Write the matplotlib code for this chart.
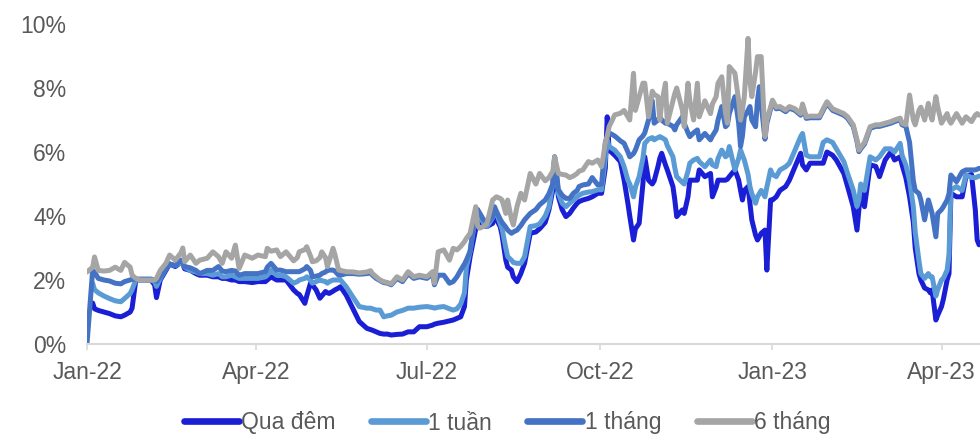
import matplotlib
matplotlib.use("Agg")
import matplotlib.pyplot as plt
import matplotlib.dates as mdates
from matplotlib.lines import Line2D
from matplotlib.ticker import FuncFormatter, MultipleLocator
import numpy as np
import pandas as pd

plt.rcParams["font.family"] = ["Liberation Sans", "DejaVu Sans"]

nan = np.nan

# Observation dates, as days elapsed since 1 Jan 2022
days = [
    0, 3, 4, 6, 9, 12, 15, 18, 20, 23, 24, 26, 28, 34, 36, 37, 39, 42, 44, 47, 50,
    51, 52, 55, 58, 60, 64, 67, 70, 72, 74, 77, 79, 81, 84, 88, 91, 95, 96, 98, 101, 103,
    106, 110, 112, 113, 116, 117, 119, 120, 122, 124, 125, 127, 128, 129, 131, 132, 134,
    135, 138, 142, 145, 149, 151, 152, 154, 156, 158, 160, 162, 165, 168, 171, 174, 177,
    181, 184, 185, 187, 190, 193, 195, 197, 199, 201, 202, 204, 207, 208, 209,
    211, 213, 216, 217, 218, 220, 221, 223, 224, 226, 227, 229, 231, 233, 236, 239, 241,
    244, 246, 248, 249, 251, 253, 255, 257, 259, 261, 262, 264, 267, 269, 272, 274, 276,
    277, 278, 281, 284, 286, 288, 289, 291, 292, 294, 296,
    297, 299, 301, 302, 304, 305, 306, 308, 309, 312, 313, 314, 317, 318, 320, 321, 323,
    325, 326, 329, 332, 333, 335, 336, 338, 340, 341, 342, 345, 347, 348, 349, 350, 352,
    353, 354, 356, 357, 358, 359, 361, 362, 364, 365, 367, 369, 372, 374, 377, 380, 381,
    383, 385, 390,
    392, 394, 397, 399, 403, 405, 408, 410, 411, 412, 414, 417, 420, 422, 425, 428, 430,
    433, 434, 436, 438, 440, 441, 443, 444, 446, 448, 449, 450, 452, 453, 455, 456, 458,
    459, 460, 463, 466, 468, 471, 473, 474, 475,
]

# Interbank rates (%)
qua_dem = [
    nan, 1.28, 1.1, 1.05, 1.0, 0.95, 0.88, 0.85, 0.9, 1.0, 1.12, 2.0, 2.0, 2.0, 1.85, 1.45,
    2.0, 2.3, 2.5, 2.42, 2.55, 2.5, 2.35, 2.3, 2.2, 2.15, 2.15, 2.1, 2.1, 2.05, 2.05, 2.0,
    2.0, 1.95, 1.95, 1.92, 1.95, 1.95, 2.0, 2.1, 2.0, 2.0,
    2.0, 1.69, 1.58, 1.55, 1.27, 1.5, 1.9, 1.85, 1.69, 1.43, 1.5, 1.64, 1.6, 1.58, 1.65,
    1.69, 1.75, 1.79, 1.53, 1.06, 0.7, 0.49, 0.45, 0.43, 0.38, 0.33, 0.31, 0.31, 0.28, 0.3,
    0.31, 0.38, 0.38, 0.54, 0.54, 0.59, 0.62, 0.65, 0.68, 0.72, 0.75, 0.8, 0.85, 1.17, 2.0,
    2.73, 3.6, 3.8, 3.77,
    3.7, 3.67, 3.77, 3.98, 3.9, 3.67, 3.4, 2.62, 2.4, 2.31, 2.1, 1.95, 2.2, 2.52, 3.46, 3.5,
    3.6, 3.8, 4.2, 4.8, 5.75, 4.6, 4.2, 3.98, 4.08, 4.25, 4.4, 4.45, 4.5, 4.55, 4.6, 4.71,
    4.71, 5.5, 7.1, 6.06, 5.9, 5.7, 5.12, 4.4, 4.0, 3.25, 3.6, 3.77, 5.0,
    5.85, 5.12, 5.0, 5.1, 5.54, 5.8, 5.96, 5.6, 5.44, 4.92, 4.5, 3.98, 4.19, 4.08, 4.6,
    5.12, 5.12, 5.12, 5.44, 5.23, 5.33, 4.6, 4.9, 5.12, 5.12, 5.12, 5.15, 5.23, 5.44, 5.12,
    4.8, 4.5, 4.8, 4.92, 4.4, 3.88, 3.4, 3.25, 3.35, 3.46, 3.56, 2.31, 4.5, 4.5, 4.6, 4.8,
    4.92, 5.12, 5.54, 5.96, 5.6, 5.44, 5.65, 5.65,
    5.65, 6.0, 5.9, 5.75, 5.33, 4.92, 4.29, 3.56, 4.2, 4.81, 4.29, 5.6, 5.55, 5.23, 5.75,
    6.0, 5.75, 5.85, 5.6, 5.2, 4.6, 3.8, 3.0, 2.2, 2.0, 1.75, 1.69, 1.6, 1.69, 0.75, 0.9,
    1.17, 1.4, 2.0, 2.2, 4.71, 4.6, 4.6, 5.23, 5.3, 4.19, 3.25, 3.1,
]

mot_tuan = [
    nan, 1.9, 1.7, 1.6, 1.5, 1.42, 1.35, 1.32, 1.42, 1.58, 1.7, 2.0, 2.0, 2.0, 1.95, 1.8,
    2.05, 2.35, 2.5, 2.45, 2.55, 2.5, 2.4, 2.3, 2.25, 2.2, 2.2, 2.15, 2.2, 2.1, 2.1, 2.15,
    2.1, 2.05, 2.05, 2.05, 2.05, 2.1, 2.15, 2.3, 2.15, 2.15,
    2.1, 1.9, 1.95, 2.0, 2.05, 2.1, 2.0, 1.9, 1.95, 2.0, 1.98, 1.95, 1.9, 1.95, 2.0, 2.0,
    2.0, 2.0, 1.79, 1.43, 1.17, 1.12, 1.12, 1.1, 1.06, 1.06, 0.85, 0.88, 0.9, 1.0, 1.05,
    1.12, 1.12, 1.15, 1.17, 1.14, 1.12, 1.15, 1.17, 1.1, 1.06, 1.1, 1.25, 1.6, 2.4, 2.9,
    4.05, 4.2, 3.98,
    3.8, 3.67, 3.95, 4.2, 4.1, 3.77, 3.6, 3.0, 2.73, 2.62, 2.55, 2.52, 2.52, 2.73, 3.67,
    3.7, 3.75, 4.0, 4.29, 5.0, 5.85, 4.7, 4.4, 4.29, 4.4, 4.5, 4.6, 4.65, 4.71, 4.75, 4.76,
    4.82, 4.82, 5.8, 6.38, 6.17, 6.06, 5.85, 5.54, 5.12, 5.0, 4.6, 4.9, 5.23, 5.8,
    6.27, 6.4, 6.45, 6.38, 6.45, 6.48, 6.45, 6.38, 6.2, 5.85, 5.5, 5.23, 5.05, 5.0, 5.4,
    5.65, 5.75, 5.8, 5.7, 5.54, 5.75, 5.6, 5.54, 5.8, 6.06, 5.85, 5.9, 6.17, 5.44, 5.8,
    6.06, 5.9, 5.75, 5.3, 4.92, 4.7, 4.4, 4.6, 4.7, 4.8, 4.6, 4.9, 5.44, 5.3, 5.23, 5.44,
    5.54, 5.65, 6.06, 6.48, 6.58, 5.9, 5.85, 5.85,
    6.3, 6.38, 6.3, 6.1, 5.7, 5.33, 4.81, 4.3, 4.5, 5.0, 4.8, 5.85, 5.75, 5.85, 6.1, 6.1,
    6.0, 6.27, 5.9, 5.6, 5.1, 4.29, 3.5, 2.6, 2.2, 2.05, 2.2, 2.1, 2.1, 1.5, 1.7, 2.0,
    2.05, 2.31, 2.8, 4.81, 4.92, 4.8, 5.28, 5.2, 5.2, 5.22, 5.25,
]

mot_thang = [
    0.0, 2.3, 2.25, 2.05, 2.0, 1.97, 1.9, 1.88, 1.95, 2.0, 2.02, 2.03, 2.03, 2.03, 2.0,
    1.95, 2.1, 2.35, 2.5, 2.45, 2.62, 2.55, 2.42, 2.38, 2.3, 2.2, 2.3, 2.3, 2.42, 2.28,
    2.26, 2.3, 2.28, 2.15, 2.2, 2.2, 2.2, 2.26, 2.4, 2.52, 2.31, 2.31,
    2.26, 2.26, 2.26, 2.26, 2.35, 2.42, 2.3, 2.1, 2.12, 2.15, 2.2, 2.25, 2.31, 2.31, 2.31,
    2.28, 2.15, 2.15, 2.2, 2.2, 2.18, 2.2, 2.22, 2.15, 2.05, 1.98, 1.92, 1.9, 1.85, 2.05,
    1.95, 2.2, 2.05, 2.1, 2.05, 2.2, 1.85, 2.15, 2.15, 1.9, 1.95, 2.1, 2.31, 2.5, 2.62,
    2.9, 4.2, 4.2, 4.1,
    3.9, 3.77, 3.98, 4.29, 4.15, 3.9, 3.8, 3.65, 3.56, 3.46, 3.5, 3.56, 3.7, 3.88, 4.08,
    4.2, 4.35, 4.5, 4.7, 5.0, 5.85, 4.82, 4.65, 4.55, 4.55, 4.71, 4.8, 4.92, 4.97, 5.0,
    5.2, 4.97, 5.0, 6.3, 6.48, 6.6, 6.5, 6.35, 6.27, 6.0, 5.85, 5.95, 6.06, 6.38, 6.5,
    6.6, 7.0, 7.6, 6.9, 7.0, 7.1, 7.0, 6.9, 6.9, 6.8, 6.69, 6.85, 7.1, 6.9, 6.6, 6.48,
    6.6, 6.69, 6.38, 6.58, 6.38, 6.5, 6.69, 7.0, 7.42, 6.79, 6.85, 7.2, 7.73, 6.9, 6.17,
    6.5, 7.1, 7.3, 7.42, 7.0, 6.79, 7.6, 8.04, 7.5, 6.4, 6.9, 7.35, 7.57, 7.35, 7.37,
    7.26, 7.37, 7.3, 7.15, 7.45, 7.05, 7.07, 7.07,
    7.3, 7.52, 7.3, 7.25, 7.15, 7.05, 6.8, 6.33, 6.01, 6.1, 6.25, 6.74, 6.8, 6.8, 6.85,
    6.9, 6.95, 7.01, 6.85, 6.8, 6.3, 5.1, 4.8, 4.7, 4.5, 3.88, 4.5, 4.3, 4.08, 3.35, 4.08,
    4.2, 4.29, 4.5, 4.7, 5.28, 5.07, 5.38, 5.44, 5.44, 5.44, 5.46, 5.49,
]

sau_thang = [
    2.25, 2.4, 2.72, 2.3, 2.28, 2.3, 2.4, 2.3, 2.55, 2.4, 2.15, 2.05, 2.0, 2.0, 2.0, 2.05,
    2.3, 2.52, 2.78, 2.62, 2.85, 3.0, 2.57, 2.78, 2.52, 2.62, 2.68, 2.88, 2.73, 2.52, 2.88,
    2.68, 3.09, 2.36, 2.78, 2.68, 2.78, 2.73, 2.99, 2.9, 2.94, 2.73,
    2.88, 2.6, 2.7, 2.88, 2.95, 3.04, 2.75, 2.57, 2.6, 2.7, 2.88, 2.7, 2.42, 2.6, 2.99,
    2.8, 2.31, 2.3, 2.26, 2.25, 2.22, 2.25, 2.29, 2.2, 2.1, 2.0, 1.95, 1.92, 1.88, 2.1,
    2.0, 2.26, 2.1, 2.15, 2.1, 2.26, 1.9, 2.88, 2.94, 2.62, 2.99, 2.94, 3.05, 3.2, 3.3,
    3.46, 4.29, 3.7, 3.62,
    3.67, 3.77, 4.5, 4.55, 4.6, 4.55, 4.5, 4.08, 4.5, 3.9, 3.72, 4.3, 4.71, 4.5, 5.33,
    5.0, 5.33, 5.1, 5.2, 5.4, 5.85, 5.33, 5.3, 5.28, 5.2, 5.25, 5.33, 5.4, 5.44, 5.7,
    5.65, 5.75, 5.54, 6.27, 6.5, 6.79, 7.16, 7.21, 7.3, 7.1, 7.0, 8.46, 7.3, 7.73, 8.15,
    8.15, 7.1, 7.9, 7.8, 7.73, 7.0, 7.5, 8.15, 6.9, 7.6, 7.83, 8.0, 7.31, 6.79, 8.15,
    7.6, 7.0, 8.15, 7.1, 7.6, 7.2, 7.5, 7.73, 8.15, 8.35, 7.2, 6.9, 8.67, 8.46, 7.6, 7.0,
    7.3, 7.73, 9.55, 8.2, 7.73, 8.5, 8.98, 8.98, 8.98, 6.48, 7.0, 7.4, 7.62, 7.4, 7.42,
    7.31, 7.42, 7.35, 7.2, 7.5, 7.1, 7.12, 7.12,
    7.35, 7.57, 7.35, 7.3, 7.2, 7.1, 6.85, 6.38, 6.06, 6.15, 6.3, 6.79, 6.85, 6.85, 6.9,
    6.95, 7.0, 7.06, 6.9, 6.85, 7.78, 7.0, 6.85, 7.3, 7.4, 7.0, 7.52, 7.2, 7.0, 7.73, 7.4,
    6.9, 7.0, 7.2, 7.0, 6.9, 7.2, 6.9, 7.1, 6.95, 7.15, 7.2, 7.15,
]

series_names = ["Qua đêm", "1 tuần", "1 tháng", "6 tháng"]
series_values = [qua_dem, mot_tuan, mot_thang, sau_thang]
series_colors = ["#1A1FD6", "#5B9BD5", "#4472C4", "#A5A5A5"]

start = pd.Timestamp("2022-01-01")
dates = start + pd.to_timedelta(days, unit="D")

text_color = "#595959"
fs = 16.5

fig = plt.figure(figsize=(9.8, 4.34), dpi=100)
ax = fig.add_axes([87 / 980, 90 / 434, 893 / 980, 320 / 434])

for vals, col in zip(series_values, series_colors):
    ax.plot(dates, vals, color=col, lw=3.6, solid_joinstyle="round",
            solid_capstyle="round")

ax.set_ylim(0, 10)
ax.set_xlim(start, start + pd.Timedelta(days=475.5))
ax.yaxis.set_major_locator(MultipleLocator(2))
ax.yaxis.set_major_formatter(FuncFormatter(lambda v, _: f"{v:.0f}%"))
ax.xaxis.set_major_locator(mdates.MonthLocator(bymonth=[1, 4, 7, 10]))
ax.xaxis.set_major_formatter(mdates.DateFormatter("%b-%y"))

for side in ["top", "right", "left"]:
    ax.spines[side].set_visible(False)
ax.spines["bottom"].set_color("#D9D9D9")
ax.spines["bottom"].set_linewidth(1.5)

ax.tick_params(axis="y", length=0, pad=15, labelsize=fs, labelcolor=text_color)
ax.tick_params(axis="x", length=4, width=1.2, color="#D9D9D9", pad=8,
               labelsize=fs, labelcolor=text_color)

handles = [Line2D([], [], color=c, lw=4.8, solid_capstyle="round") for c in series_colors]
fig.legend(handles, series_names, loc="center", bbox_to_anchor=(507 / 980, 1 - 423 / 434),
           ncol=4, frameon=False, fontsize=fs, labelcolor=text_color,
           handlelength=2.4, handletextpad=0.1, columnspacing=1.55)

fig.savefig("out.png", dpi=100)
